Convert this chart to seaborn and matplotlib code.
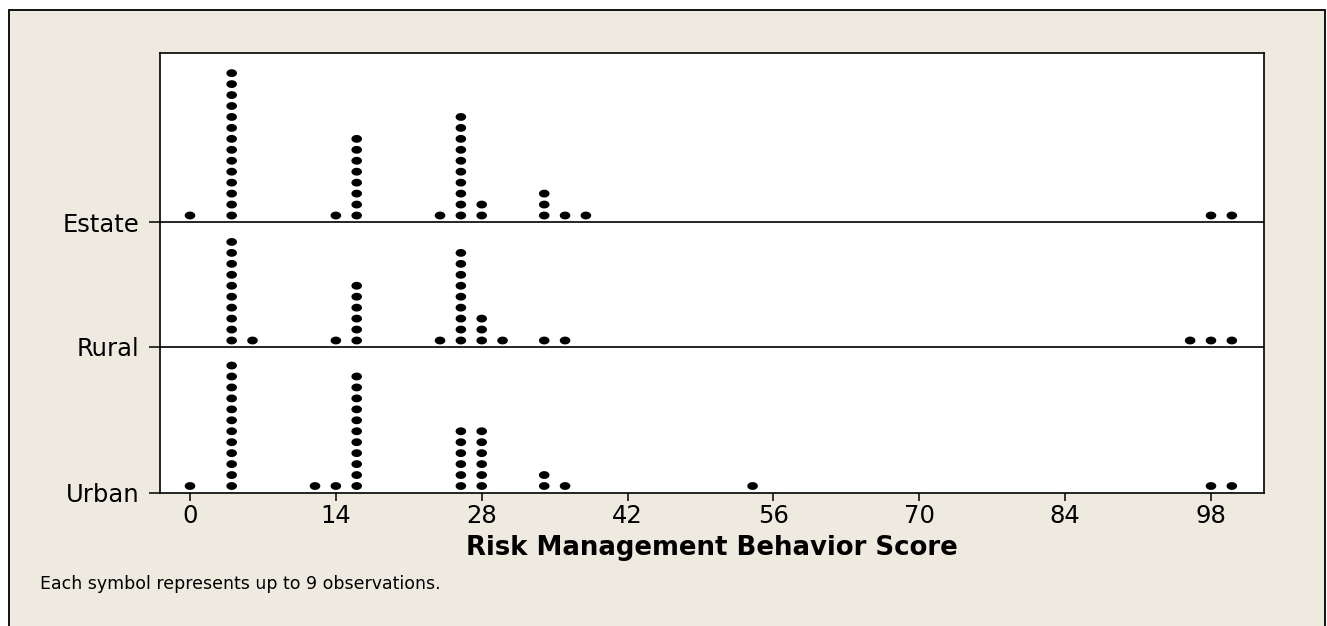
import numpy as np
import pandas as pd
import matplotlib
matplotlib.use("Agg")
import matplotlib.pyplot as plt
from matplotlib.path import Path
from matplotlib.patches import Rectangle
import seaborn as sns

# Dot plot values: bin centre and number of symbols
groups = ["Urban", "Rural", "Estate"]

estate_scores = [0, 4, 14, 16, 24, 26, 28, 34, 36, 38, 98, 100]
estate_counts = [1, 14, 1, 8, 1, 10, 2, 3, 1, 1, 1, 1]

rural_scores = [4, 6, 14, 16, 24, 26, 28, 30, 34, 36, 96, 98, 100]
rural_counts = [10, 1, 1, 6, 1, 9, 3, 1, 1, 1, 1, 1, 1]

urban_scores = [0, 4, 12, 14, 16, 26, 28, 34, 36, 54, 98, 100]
urban_counts = [1, 12, 1, 1, 11, 6, 6, 2, 1, 1, 1, 1]

x_ticks = [0, 14, 28, 42, 56, 70, 84, 98]
x_label = "Risk Management Behavior Score"
footnote = "Each symbol represents up to 9 observations."

# layout (pixel units inside the axes)
W, H = 1327, 626
AX_L, AX_R, AX_T, AX_B = 160, 1264, 53, 492.5
baselines = {"Urban": 0.0, "Rural": 145.5, "Estate": 270.5}
ROW_GAP = 10.95
FIRST_ROW = 6.5
BEIGE = "#EEEAE0"


def stack(group, scores, counts):
    rows = []
    for sc, n in zip(scores, counts):
        for k in range(n):
            rows.append({"group": group, "score": sc,
                         "ypos": baselines[group] + FIRST_ROW + k * ROW_GAP})
    return rows


records = (stack("Estate", estate_scores, estate_counts)
           + stack("Rural", rural_scores, rural_counts)
           + stack("Urban", urban_scores, urban_counts))
df = pd.DataFrame(records)

sns.set_theme(style="white")
plt.rcParams["font.family"] = ["DejaVu Sans"]

fig = plt.figure(figsize=(W / 100, H / 100), dpi=100, facecolor="white")

# outer beige frame, kept behind the axes
frame = Rectangle((9 / W, -0.05), (1325 - 9) / W, 1.05 - 10 / H,
                  transform=fig.transFigure, facecolor=BEIGE,
                  edgecolor="black", linewidth=1.3, zorder=-10)
fig.add_artist(frame)

ax = fig.add_axes([AX_L / W, 1 - AX_B / H, (AX_R - AX_L) / W, (AX_B - AX_T) / H])
ax.set_facecolor("white")
ax.set_zorder(5)

# slightly flattened dot marker
t = np.linspace(0, 2 * np.pi, 60)
ellipse = Path(np.column_stack([np.cos(t), 0.74 * np.sin(t)]), closed=True)

sns.scatterplot(data=df, x="score", y="ypos", marker=ellipse, s=58,
                color="black", edgecolor="none", legend=False, ax=ax, zorder=3)

for g in ["Rural", "Estate"]:
    ax.axhline(baselines[g], color="black", linewidth=1.2, zorder=2)

x0 = 190
scale = (1211 - 190) / 98
ax.set_xlim((AX_L - x0) / scale, (AX_R - x0) / scale)
ax.set_ylim(0, AX_B - AX_T)

ax.set_xticks(x_ticks)
ax.set_xticklabels([str(v) for v in x_ticks])
ax.set_yticks([baselines[g] for g in groups])
ax.set_yticklabels(groups)

for sp in ax.spines.values():
    sp.set_visible(True)
    sp.set_color("black")
    sp.set_linewidth(1.2)

ax.tick_params(axis="x", direction="out", length=5.8, width=1.1, color="black",
               labelsize=17.5, labelcolor="black", pad=2.5, bottom=True)
ax.tick_params(axis="y", direction="out", length=7.9, width=1.1, color="black",
               labelsize=17.5, labelcolor="black", pad=7, left=True)

ax.set_xlabel(x_label, fontsize=18.7, fontweight="bold", color="black", labelpad=5)
ax.set_ylabel("")

fig.text(40 / W, 1 - 584 / H, footnote, fontsize=12.5, color="black",
         ha="left", va="center")

fig.savefig("out.png", dpi=100, facecolor="white")
